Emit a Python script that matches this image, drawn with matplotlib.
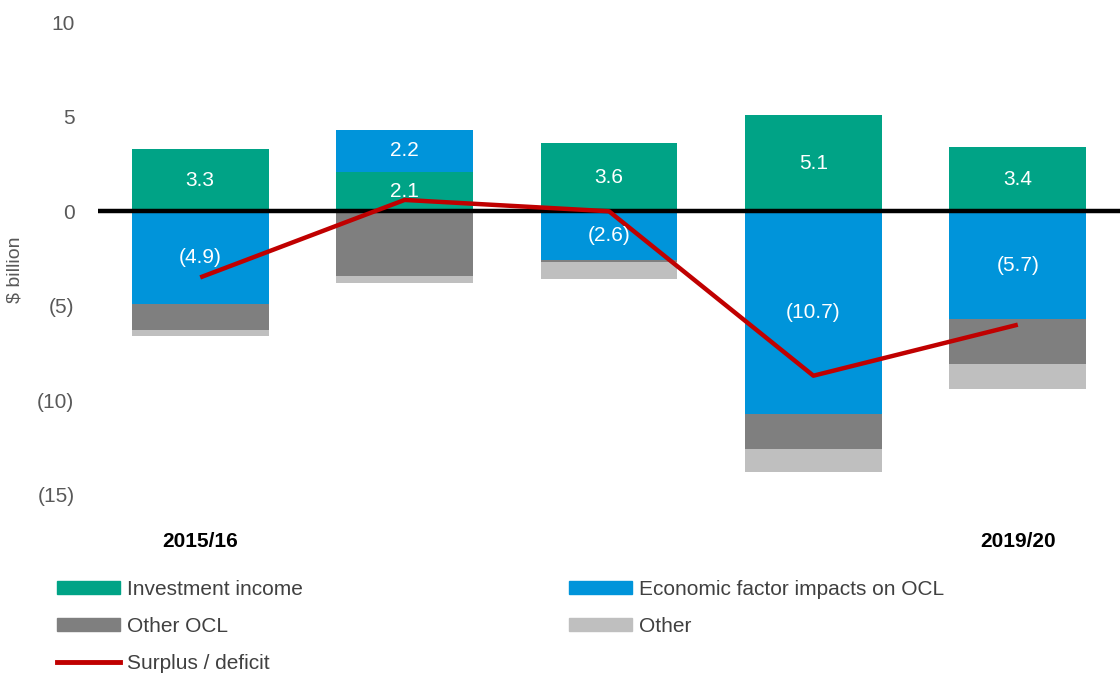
import matplotlib.pyplot as plt
import matplotlib.patches as mpatches
from matplotlib.lines import Line2D
import numpy as np

plt.rcParams['font.family'] = ['Liberation Sans', 'DejaVu Sans']

# dados ($ bilhoes)
anos = ['2015/16', '2016/17', '2017/18', '2018/19', '2019/20']
investimento = [3.3, 2.1, 3.6, 5.1, 3.4]
economico = [-4.9, 2.2, -2.6, -10.7, -5.7]
outro_ocl = [-1.4, -3.4, -0.1, -1.9, -2.4]
outro = [-0.3, -0.4, -0.9, -1.2, -1.3]
superavit = [-3.5, 0.6, 0.0, -8.7, -6.0]

rotulos_inv = ['3.3', '2.1', '3.6', '5.1', '3.4']
rotulos_eco = ['(4.9)', '2.2', '(2.6)', '(10.7)', '(5.7)']
ticks_y = [10, 5, 0, -5, -10, -15]
ticks_y_txt = ['10', '5', '0', '(5)', '(10)', '(15)']

verde = '#00A386'
azul = '#0094DA'
cinza = '#7F7F7F'
cinza_claro = '#BFBFBF'
vermelho = '#C00000'

fig = plt.figure(figsize=(11.2, 6.75), dpi=100)
ax = fig.add_axes([0.0875, 0.267, 0.9125, 0.70])

x = np.arange(len(anos))
w = 0.67

# empilhamento separado para positivos e negativos
pos = np.zeros(len(anos))
neg = np.zeros(len(anos))
series = [(investimento, verde), (economico, azul), (outro_ocl, cinza), (outro, cinza_claro)]
centros = []
for vals, cor in series:
    vals = np.array(vals)
    base = np.where(vals >= 0, pos, neg)
    ax.bar(x, vals, w, bottom=base, color=cor, zorder=2)
    centros.append(base + vals / 2)
    pos = np.where(vals >= 0, pos + vals, pos)
    neg = np.where(vals < 0, neg + vals, neg)

ax.axhline(0, color='black', lw=3.2, zorder=3)
ax.plot(x, superavit, color=vermelho, lw=3.2, zorder=4, solid_capstyle='butt')

for i in range(len(anos)):
    ax.text(x[i], centros[0][i], rotulos_inv[i], color='white', fontsize=15,
            ha='center', va='center', zorder=5)
    ax.text(x[i], centros[1][i], rotulos_eco[i], color='white', fontsize=15,
            ha='center', va='center', zorder=5)

ax.set_xlim(-0.5, 4.5)
ax.set_ylim(-15, 10)
ax.set_yticks(ticks_y)
ax.set_yticklabels(ticks_y_txt, fontsize=15, color='#595959')
ax.set_xticks(x)
ax.set_xticklabels([anos[0], '', '', '', anos[-1]], fontsize=15, fontweight='bold')
ax.tick_params(axis='both', length=0)
ax.tick_params(axis='x', pad=27)
ax.tick_params(axis='y', pad=17)
for s in ax.spines.values():
    s.set_visible(False)

fig.text(15 / 1120, 1 - 270 / 675, '$ billion', rotation=90, fontsize=14,
         color='#595959', ha='center', va='center')

handles = [mpatches.Patch(color=verde), mpatches.Patch(color=cinza),
           Line2D([], [], color=vermelho, lw=3.5),
           mpatches.Patch(color=azul), mpatches.Patch(color=cinza_claro)]
labels = ['Investment income', 'Other OCL', 'Surplus / deficit',
          'Economic factor impacts on OCL', 'Other']
fig.legend(handles, labels, ncol=2, loc='upper left', bbox_to_anchor=(0.051, 0.141),
           frameon=False, fontsize=15, handlelength=3.0, handleheight=0.6,
           handletextpad=0.35, labelspacing=0.86, columnspacing=12.8,
           labelcolor='#404040', borderaxespad=0, borderpad=0)

fig.savefig('out.png', dpi=100)
